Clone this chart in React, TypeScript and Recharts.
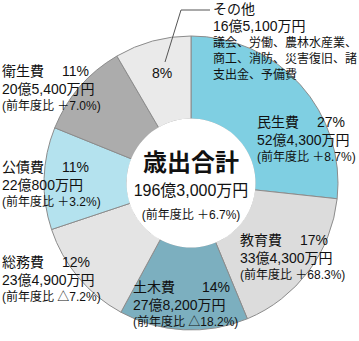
import { PieChart, Pie, Cell } from "recharts"

// 歳出 (単位: 万円)
const names = ["民生費", "教育費", "土木費", "総務費", "公債費", "衛生費", "その他"]
const amounts = [524300, 334300, 278200, 234900, 220800, 205400, 165100]
const pcts = ["27%", "17%", "14%", "12%", "11%", "11%", "8%"]
const amountLabels = [
  "52億4,300万円",
  "33億4,300万円",
  "27億8,200万円",
  "23億4,900万円",
  "22億800万円",
  "20億5,400万円",
  "16億5,100万円",
]
const yoyLabels = [
  "(前年度比 ＋8.7%)",
  "(前年度比 ＋68.3%)",
  "(前年度比 △18.2%)",
  "(前年度比 △7.2%)",
  "(前年度比 ＋3.2%)",
  "(前年度比 ＋7.0%)",
  "",
]
const otherNote = ["議会、労働、農林水産業、", "商工、消防、災害復旧、諸", "支出金、予備費"]
const totalLabel = "196億3,000万円"
const totalYoy = "(前年度比 ＋6.7%)"

const colors = ["#7fcfe2", "#dcdcdc", "#7cafbf", "#e4e4e4", "#b4e2ee", "#acacac", "#eaeaea"]

// label placement: [x, y of first line, x of percent]
const labelPos: [number, number, number][] = [
  [257, 122, 317],
  [240, 240, 300],
  [133, 287, 202],
  [2, 262, 62],
  [2, 167, 62],
  [2, 71, 62],
]

const FONT = "'Liberation Sans', 'Noto Sans CJK JP', sans-serif"
const CX = 191
const CY = 183

export default function App() {
  const data = names.map((n, i) => ({ name: n, value: amounts[i] }))

  return (
    <div style={{ position: "absolute", left: 0, top: 0, width: 359, height: 341, background: "#fff" }}>
      <PieChart width={359} height={341} margin={{ top: 0, right: 0, bottom: 0, left: 0 }}>
        <Pie
          data={data}
          dataKey="value"
          cx={CX}
          cy={CY}
          innerRadius={64}
          outerRadius={147}
          startAngle={90}
          endAngle={-270}
          stroke="#8c8c8c"
          strokeWidth={1}
          isAnimationActive={false}
        >
          {data.map((d, i) => (
            <Cell key={d.name} fill={colors[i]} />
          ))}
        </Pie>
        <Pie
          data={[{ name: "center", value: 1 }]}
          dataKey="value"
          cx={CX}
          cy={CY}
          outerRadius={64.5}
          fill="#fff"
          stroke="none"
          isAnimationActive={false}
        />
      </PieChart>
      <svg
        width={359}
        height={341}
        style={{ position: "absolute", left: 0, top: 0, pointerEvents: "none", fontFamily: FONT }}
      >
        {labelPos.map(([x, y, px], i) => (
          <g key={names[i]} fill="#111">
            <text x={x} y={y} fontSize={14} dominantBaseline="central">
              {names[i]}
            </text>
            <text x={px} y={y} fontSize={14} dominantBaseline="central">
              {pcts[i]}
            </text>
            <text x={x} y={y + 18} fontSize={14} dominantBaseline="central">
              {amountLabels[i]}
            </text>
            <text x={x} y={y + 35} fontSize={12} dominantBaseline="central">
              {yoyLabels[i]}
            </text>
          </g>
        ))}

        {/* その他 */}
        <text x={152} y={73} fontSize={14} fill="#111" dominantBaseline="central">
          {pcts[6]}
        </text>
        <polyline points="165,62 181,10 210,10" fill="none" stroke="#555" strokeWidth={1} />
        <text x={213} y={9} fontSize={14} fill="#111" dominantBaseline="central">
          {names[6]}
        </text>
        <text x={213} y={26} fontSize={14} fill="#111" dominantBaseline="central">
          {amountLabels[6]}
        </text>
        {otherNote.map((t, i) => (
          <text key={t} x={213} y={43 + i * 16} fontSize={12} fill="#111" dominantBaseline="central">
            {t}
          </text>
        ))}

        {/* 中央 */}
        <text x={CX} y={162} fontSize={24} fontWeight="bold" textAnchor="middle" dominantBaseline="central" fill="#111">
          歳出合計
        </text>
        <text x={CX} y={190} fontSize={16} textAnchor="middle" dominantBaseline="central" fill="#111">
          {totalLabel}
        </text>
        <text x={CX} y={215} fontSize={12} textAnchor="middle" dominantBaseline="central" fill="#111">
          {totalYoy}
        </text>
      </svg>
    </div>
  )
}
